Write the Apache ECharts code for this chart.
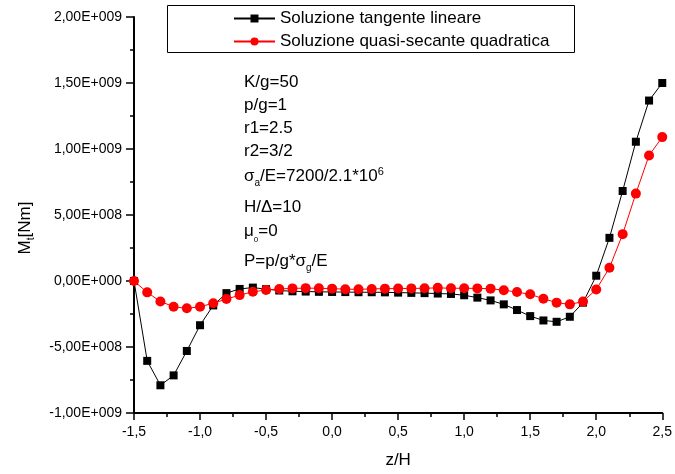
<!DOCTYPE html>
<html>
<head>
<meta charset="utf-8">
<script src="https://cdn.jsdelivr.net/npm/echarts@6/dist/echarts.min.js"></script>
<style>
  html, body { margin: 0; padding: 0; background: #fff; }
  #chart { width: 675px; height: 474px; }
</style>
</head>
<body>
<div id="chart"></div>
<script>
// Abscissa z/H
const zOverH = [
  -1.5, -1.4, -1.3, -1.2, -1.1, -1.0, -0.9, -0.8, -0.7, -0.6,
  -0.5, -0.4, -0.3, -0.2, -0.1, 0.0, 0.1, 0.2, 0.3, 0.4,
  0.5, 0.6, 0.7, 0.8, 0.9, 1.0, 1.1, 1.2, 1.3, 1.4,
  1.5, 1.6, 1.7, 1.8, 1.9, 2.0, 2.1, 2.2, 2.3, 2.4, 2.5
];

// Mt [Nm] – linear tangent solution
const tangenteLineare = [
  0, -6.05e8, -7.9e8, -7.15e8, -5.3e8, -3.35e8, -1.85e8, -0.92e8, -0.6e8, -0.5e8,
  -0.62e8, -0.72e8, -0.78e8, -0.8e8, -0.82e8, -0.83e8, -0.84e8, -0.85e8, -0.85e8, -0.86e8,
  -0.88e8, -0.9e8, -0.92e8, -0.95e8, -0.98e8, -1.08e8, -1.26e8, -1.47e8, -1.77e8, -2.2e8,
  -2.66e8, -2.99e8, -3.09e8, -2.71e8, -1.64e8, 0.4e8, 3.27e8, 6.82e8, 10.55e8, 13.67e8, 15.0e8
];

// Mt [Nm] – quadratic quasi-secant solution
const quasiSecanteQuadratica = [
  0, -0.86e8, -1.55e8, -1.95e8, -2.07e8, -1.95e8, -1.68e8, -1.37e8, -1.07e8, -0.82e8,
  -0.68e8, -0.6e8, -0.56e8, -0.54e8, -0.55e8, -0.58e8, -0.62e8, -0.63e8, -0.6e8, -0.58e8,
  -0.57e8, -0.56e8, -0.55e8, -0.52e8, -0.55e8, -0.55e8, -0.56e8, -0.58e8, -0.7e8, -0.84e8,
  -1.01e8, -1.34e8, -1.64e8, -1.77e8, -1.56e8, -0.64e8, 1.0e8, 3.55e8, 6.62e8, 9.51e8, 10.9e8
];

const seriesNames = ['Soluzione tangente lineare', 'Soluzione quasi-secante quadratica'];

// Parameter block shown inside the plot; sub/sup mark subscripts and superscripts
const parameterLines = [
  [{ t: 'K/g=50' }],
  [{ t: 'p/g=1' }],
  [{ t: 'r1=2.5' }],
  [{ t: 'r2=3/2' }],
  [{ t: 'σ' }, { t: 'a', sub: true }, { t: '/E=7200/2.1*10' }, { t: '6', sup: true, fs: 11 }],
  [{ t: 'H/Δ=10' }],
  [{ t: 'μ' }, { t: '0', sub: true, fs: 8, dy: 5 }, { t: '=0' }],
  [{ t: 'P=p/g*σ' }, { t: 'g', sub: true }, { t: '/E' }]
];

const FONT = '"Liberation Sans", Arial, Helvetica, sans-serif';

const measureCtx = document.createElement('canvas').getContext('2d');
function textWidth(t, size) {
  measureCtx.font = size + 'px ' + FONT;
  return measureCtx.measureText(t).width;
}

// Builds the text pieces of one formula line, baseline at local y = 0
function formulaChildren(parts, size, startX) {
  const children = [];
  let cx = startX || 0;
  parts.forEach(p => {
    const fs = (p.sub || p.sup) ? (p.fs || 10) : size;
    const dy = p.sub ? (p.dy || 4) : (p.sup ? -(p.dy || 6) : 0);
    children.push({
      type: 'text',
      x: cx,
      y: dy - 0.35 * fs,
      silent: true,
      style: {
        text: p.t,
        fontSize: fs,
        fontFamily: FONT,
        fill: '#000',
        align: 'left',
        verticalAlign: 'middle'
      }
    });
    cx += textWidth(p.t, fs);
  });
  return { children, width: cx - (startX || 0) };
}

function formatSci(v) {
  const s = Number(v).toExponential(2);
  const parts = s.split('e');
  const e = parseInt(parts[1], 10);
  return parts[0].replace('.', ',') + 'E' + (e < 0 ? '-' : '+') + String(Math.abs(e)).padStart(3, '0');
}

const chart = echarts.init(document.getElementById('chart'), null, { renderer: 'canvas' });

// Parameter block
const paramBaselines = [88.3, 111.7, 134.2, 157.3, 182.3, 213.3, 237.3, 267.3];
const graphics = parameterLines.map((line, i) => ({
  type: 'group',
  x: 244,
  y: paramBaselines[i],
  children: formulaChildren(line, 17).children
}));

// Rotated y-axis title Mt[Nm]
const yTitleParts = [{ t: 'M' }, { t: 't', sub: true, fs: 10, dy: 4 }, { t: '[Nm]' }];
const yTitleW = formulaChildren(yTitleParts, 17).width;
graphics.push({
  type: 'group',
  x: 31,
  y: 228,
  rotation: Math.PI / 2,
  children: formulaChildren(yTitleParts, 17, -yTitleW / 2).children
});

// Legend frame
graphics.push({
  type: 'rect',
  silent: true,
  shape: { x: 167.5, y: 5.5, width: 407, height: 47 },
  style: { fill: 'none', stroke: '#000', lineWidth: 1 }
});

const option = {
  animation: false,
  backgroundColor: '#fff',
  grid: { left: 134, right: 11, top: 17, bottom: 60, containLabel: false },
  legend: {
    orient: 'vertical',
    left: 233,
    top: 10,
    padding: 0,
    itemWidth: 41,
    itemHeight: 10,
    itemGap: 6,
    selectedMode: false,
    textStyle: { fontFamily: FONT, fontSize: 17, lineHeight: 17, color: '#000' },
    data: seriesNames
  },
  xAxis: {
    type: 'value',
    min: -1.5,
    max: 2.5,
    interval: 0.5,
    name: 'z/H',
    nameLocation: 'middle',
    nameGap: 39,
    nameTextStyle: { fontFamily: FONT, fontSize: 17, color: '#000' },
    axisLine: { show: true, onZero: false, lineStyle: { color: '#000', width: 2 } },
    axisTick: { show: true, inside: false, length: 7, lineStyle: { color: '#000', width: 1.5 } },
    minorTick: { show: true, splitNumber: 2, length: 4, lineStyle: { color: '#000', width: 1.5 } },
    splitLine: { show: false },
    axisLabel: {
      margin: 12,
      fontFamily: FONT,
      fontSize: 14,
      color: '#000',
      formatter: v => v.toFixed(1).replace('.', ',')
    }
  },
  yAxis: {
    type: 'value',
    min: -1e9,
    max: 2e9,
    interval: 5e8,
    axisLine: { show: true, onZero: false, lineStyle: { color: '#000', width: 2 } },
    axisTick: { show: true, inside: false, length: 8, lineStyle: { color: '#000', width: 1.5 } },
    minorTick: { show: true, splitNumber: 2, length: 4, lineStyle: { color: '#000', width: 1.5 } },
    splitLine: { show: false },
    axisLabel: {
      margin: 12,
      fontFamily: FONT,
      fontSize: 14,
      color: '#000',
      formatter: formatSci
    }
  },
  series: [
    {
      name: seriesNames[0],
      type: 'line',
      data: zOverH.map((z, i) => [z, tangenteLineare[i]]),
      symbol: 'rect',
      symbolSize: 8,
      itemStyle: { color: '#000' },
      lineStyle: { color: '#000', width: 1 },
      emphasis: { disabled: true }
    },
    {
      name: seriesNames[1],
      type: 'line',
      data: zOverH.map((z, i) => [z, quasiSecanteQuadratica[i]]),
      symbol: 'circle',
      symbolSize: 10,
      itemStyle: { color: '#ff0000' },
      lineStyle: { color: '#ff0000', width: 1 },
      emphasis: { disabled: true }
    }
  ],
  graphic: graphics
};

chart.setOption(option);
</script>
</body>
</html>
